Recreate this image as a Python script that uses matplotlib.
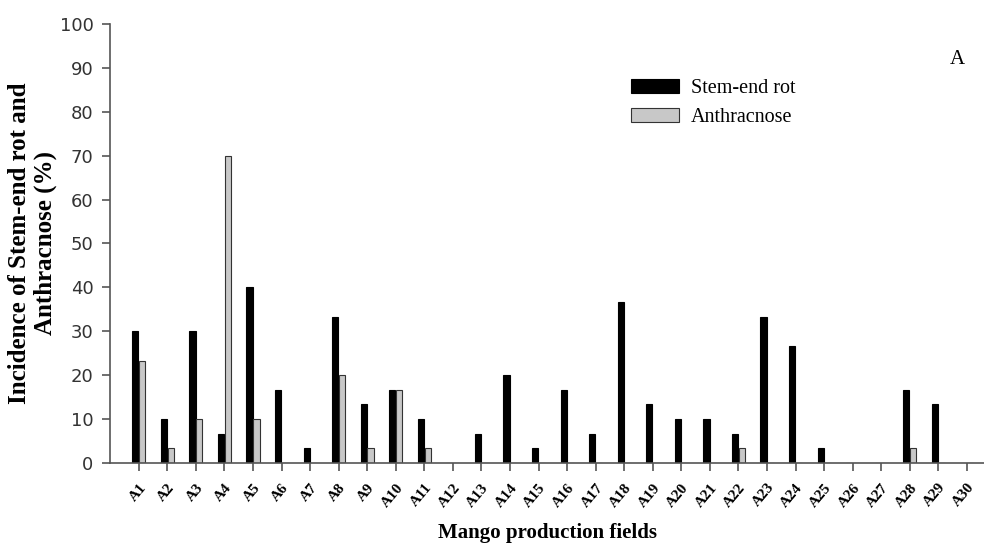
import matplotlib
matplotlib.use('Agg')
import matplotlib.pyplot as plt
import numpy as np

fields = ['A%d' % i for i in range(1, 31)]
stem_end_rot = [30, 10, 30, 6.67, 40, 16.67, 3.33, 33.33, 13.33, 16.67,
                10, 0, 6.67, 20, 3.33, 16.67, 6.67, 36.67, 13.33, 10,
                10, 6.67, 33.33, 26.67, 3.33, 0, 0, 16.67, 13.33, 0]
anthracnose = [23.33, 3.33, 10, 70, 10, 0, 0, 20, 3.33, 16.67,
               3.33, 0, 0, 0, 0, 0, 0, 0, 0, 0,
               0, 3.33, 0, 0, 0, 0, 0, 3.33, 0, 0]

serif = ['Liberation Serif', 'DejaVu Serif']

fig = plt.figure(figsize=(9.84, 5.44), dpi=100)
ax = fig.add_axes([0.112, 0.149, 0.888, 0.807])

x = np.arange(len(fields))
w = 0.22
ax.bar(x - w / 2 - 0.01, stem_end_rot, w, color='black', edgecolor='black',
       linewidth=0.8, label='Stem-end rot')
ax.bar(x + w / 2 + 0.01, anthracnose, w, color='#c8c8c8', edgecolor='#333333',
       linewidth=0.8, label='Anthracnose')

ax.set_xlim(-1.0, 29.6)
ax.set_ylim(0, 100)
ax.set_yticks(np.arange(0, 101, 10))
ax.set_xticks(x)
ax.set_xticklabels(fields, rotation=50, ha='right', rotation_mode='anchor',
                   family=serif, fontweight='bold', fontsize=11)
for lbl in ax.get_yticklabels():
    lbl.set_fontsize(13)
    lbl.set_color('#333333')

for s in ['top', 'right']:
    ax.spines[s].set_visible(False)
for s in ['left', 'bottom']:
    ax.spines[s].set_color('#555555')
    ax.spines[s].set_linewidth(1.2)
ax.tick_params(axis='both', direction='out', length=6, color='#555555', width=1.2)
ax.tick_params(axis='y', pad=6)
ax.tick_params(axis='x', pad=7)

ax.set_ylabel('Incidence of Stem-end rot and\nAnthracnose (%)', family=serif,
              fontweight='bold', fontsize=18, labelpad=2, linespacing=1.15)
ax.set_xlabel('Mango production fields', family=serif, fontweight='bold',
              fontsize=15, labelpad=10)

ax.legend(loc='upper left', bbox_to_anchor=(0.575, 0.915), frameon=False,
          prop={'family': serif, 'size': 14.5}, handlelength=2.4,
          handleheight=0.7, labelspacing=0.45, handletextpad=0.6)
ax.text(0.97, 0.92, 'A', transform=ax.transAxes, family=serif, fontsize=15,
        ha='center', va='center')

fig.savefig('out.png', dpi=100)
